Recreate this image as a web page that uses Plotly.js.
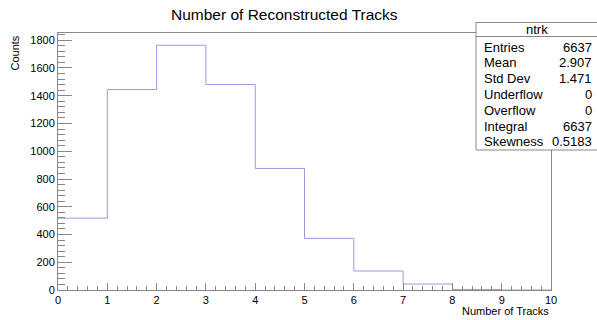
<!DOCTYPE html>
<html>
<head>
<meta charset="utf-8">
<script src="https://cdn.plot.ly/plotly-3.0.1.min.js"></script>
<style>html,body{margin:0;padding:0;background:#fff;}#plot{width:597px;height:320px;}</style>
</head>
<body>
<div id="plot"></div>
<script>
// Histogram data (bin lower edges and counts)
const binEdges = [0, 1, 2, 3, 4, 5, 6, 7, 8, 9, 10];
const binCounts = [518, 1445, 1764, 1481, 876, 372, 137, 43, 4, 0];
const statLabels = ["Entries", "Mean", "Std Dev", "Underflow", "Overflow", "Integral", "Skewness"];
const statValues = ["6637", "2.907", "1.471", "0", "0", "6637", "0.5183"];
const histName = "ntrk";
const chartTitle = "Number of Reconstructed Tracks";
const xTitle = "Number of Tracks";
const yTitle = "Counts";

const yStep = binCounts.concat([binCounts[binCounts.length - 1]]);
const yMax = Math.max(...binCounts) * 1.05;

const W = 597, H = 320;
const font = "Liberation Sans, Arial, sans-serif";
const ml = 58, mr = 46, mt = 33, mb = 30;

const trace = {
  x: binEdges, y: yStep, type: "scatter", mode: "lines",
  line: {shape: "hv", color: "#9a9ae0", width: 1},
  hoverinfo: "skip"
};

// pixel -> paper coords (paper is the plot area)
const pw = W - ml - mr, ph = H - mt - mb;
const ax = v => (v - ml) / pw, ay = v => 1 - (v - mt) / ph;

// stats box
const boxL = 476, boxR = 597, boxT = 22.5, boxB = 150, headB = 36.5;
const rowY0 = 47, rowDY = 15.8;
const shapes = [
  {type: "rect", xref: "paper", yref: "paper", x0: ax(boxL), x1: ax(boxR + 2), y0: ay(boxB), y1: ay(boxT),
   line: {color: "#888", width: 1}, fillcolor: "#fff", layer: "above"},
  {type: "line", xref: "paper", yref: "paper", x0: ax(boxL), x1: ax(boxR + 2), y0: ay(headB), y1: ay(headB),
   line: {color: "#888", width: 1}, layer: "above"}
];
const annotations = [
  {text: histName, xref: "paper", yref: "paper", x: ax((boxL + boxR) / 2), y: ay(29.5),
   xanchor: "center", yanchor: "middle", showarrow: false, font: {family: font, size: 13, color: "#000"}},
  {text: chartTitle, xref: "paper", yref: "paper", x: ax(284), y: ay(14.5),
   xanchor: "center", yanchor: "middle", showarrow: false, font: {family: font, size: 15.5, color: "#000"}},
  {text: xTitle, xref: "paper", yref: "paper", x: 1, y: ay(310.5),
   xanchor: "right", yanchor: "middle", showarrow: false, font: {family: font, size: 11, color: "#000"}},
  {text: yTitle, xref: "paper", yref: "paper", x: ax(14), y: ay(34),
   xanchor: "center", yanchor: "top", textangle: -90, showarrow: false, font: {family: font, size: 11, color: "#000"}}
];
statLabels.forEach((lab, i) => {
  const yy = ay(rowY0 + i * rowDY);
  annotations.push({text: lab, xref: "paper", yref: "paper", x: ax(482), y: yy,
    xanchor: "left", yanchor: "middle", showarrow: false, font: {family: font, size: 13, color: "#000"}});
  annotations.push({text: statValues[i], xref: "paper", yref: "paper", x: ax(594), y: yy,
    xanchor: "right", yanchor: "middle", showarrow: false, font: {family: font, size: 13, color: "#000"}});
});

const layout = {
  width: W, height: H,
  margin: {l: ml, r: mr, t: mt, b: mb, pad: 0},
  paper_bgcolor: "#fff", plot_bgcolor: "#fff",
  showlegend: false,
  xaxis: {range: [0, 10], dtick: 1, tick0: 0, ticks: "inside", ticklen: 7, tickcolor: "#888",
    showline: true, linecolor: "#888", linewidth: 1, mirror: true, showgrid: false, zeroline: false,
    tickfont: {family: font, size: 11, color: "#000"},
    minor: {dtick: 0.2, ticks: "inside", ticklen: 4, tickcolor: "#888", showgrid: false}},
  yaxis: {range: [0, yMax], dtick: 200, tick0: 0, ticks: "inside", ticklen: 14, tickcolor: "#888",
    showline: true, linecolor: "#888", linewidth: 1, mirror: true, showgrid: false, zeroline: false,
    tickfont: {family: font, size: 11, color: "#000"},
    minor: {dtick: 40, ticks: "inside", ticklen: 7, tickcolor: "#888", showgrid: false}},
  shapes: shapes,
  annotations: annotations
};

Plotly.newPlot("plot", [trace], layout, {displayModeBar: false, staticPlot: true});
</script>
</body>
</html>
